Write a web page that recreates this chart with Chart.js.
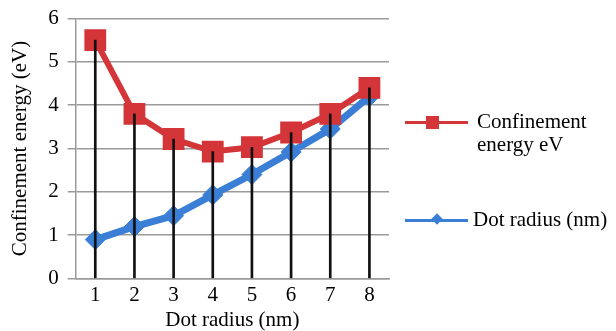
<!DOCTYPE html>
<html>
<head>
<meta charset="utf-8">
<script src="https://cdn.jsdelivr.net/npm/chart.js@4/dist/chart.umd.min.js"></script>
<style>
    html, body { margin: 0; padding: 0; background: #fff; }
    .wrap { position: relative; width: 616px; height: 331px; }
    .legend { position: absolute; left: 0; top: 0; font-family: "Liberation Serif", "DejaVu Serif", serif; font-size: 21px; color: #000; }
    .item { position: absolute; }
    .item .line { position: absolute; height: 3px; width: 63px; }
    .item .mark { position: absolute; }
    .item .text { position: absolute; white-space: nowrap; line-height: 23px; }
</style>
</head>
<body>
<div class="wrap">
    <canvas id="chart" width="616" height="331"></canvas>
    <div class="legend">
        <div class="item">
            <div class="line" style="left:405px;top:121px;background:#d43538;"></div>
            <div class="mark" style="left:426px;top:116px;width:13px;height:13px;background:#d43538;"></div>
            <div class="text" style="left:477px;top:110px;">Confinement<br>energy eV</div>
        </div>
        <div class="item">
            <div class="line" style="left:405px;top:219px;background:#3a7fd5;"></div>
            <div class="mark" style="left:433px;top:215px;width:8px;height:8px;background:#3a7fd5;transform:rotate(45deg);"></div>
            <div class="text" style="left:473px;top:208px;">Dot radius (nm)</div>
        </div>
    </div>
</div>
<script>
const radii = ['1', '2', '3', '4', '5', '6', '7', '8'];
const confinementEnergy = [5.5, 3.8, 3.22, 2.93, 3.03, 3.37, 3.8, 4.4];
const dotRadius = [0.9, 1.2, 1.45, 1.93, 2.4, 2.92, 3.45, 4.2];
const yTicks = [0, 1, 2, 3, 4, 5, 6];

// Excel-style drop lines: from the highest point of each category down to the axis
const dropLines = confinementEnergy.map((v, i) => Math.max(v, dotRadius[i]));

const serif = { family: '"Liberation Serif", "DejaVu Serif", serif', size: 21 };

new Chart(document.getElementById('chart'), {
    type: 'line',
    data: {
        labels: radii,
        datasets: [
            {
                type: 'bar',
                label: 'drop',
                data: dropLines,
                backgroundColor: '#111',
                barThickness: 2,
                order: 0,
            },
            {
                label: 'Confinement energy eV',
                data: confinementEnergy,
                borderColor: '#d43538',
                backgroundColor: '#d43538',
                borderWidth: 6,
                pointStyle: 'rect',
                pointRadius: 14,
                pointBorderWidth: 2,
                tension: 0,
                order: 1,
            },
            {
                label: 'Dot radius (nm)',
                data: dotRadius,
                borderColor: '#3a7fd5',
                backgroundColor: '#3a7fd5',
                borderWidth: 7,
                pointStyle: 'rectRot',
                pointRadius: 10,
                pointBorderWidth: 1,
                tension: 0,
                order: 2,
            }
        ]
    },
    options: {
        responsive: false,
        animation: false,
        layout: { padding: { top: 0, right: 227, left: 8, bottom: -2 } },
        plugins: { legend: { display: false }, tooltip: { enabled: false } },
        scales: {
            x: {
                offset: true,
                grid: { display: false, drawTicks: false },
                border: { display: true, color: '#9a9a9a', width: 1.5 },
                ticks: { color: '#000', font: serif, padding: 4 },
                title: { display: true, text: 'Dot radius (nm)', color: '#000', font: serif, padding: { top: -4, bottom: 0 } }
            },
            y: {
                min: 0,
                max: 6,
                afterBuildTicks: axis => { axis.ticks = yTicks.map(v => ({ value: v })); },
                grid: { color: '#9a9a9a', lineWidth: 1.5, tickLength: 8 },
                border: { display: true, color: '#9a9a9a', width: 1.5 },
                ticks: { color: '#000', font: { ...serif, lineHeight: 0.9 }, padding: 9 },
                title: { display: true, text: 'Confinement energy (eV)', color: '#000', font: serif, padding: { top: 0, bottom: 6 } }
            }
        }
    }
});
</script>
</body>
</html>
